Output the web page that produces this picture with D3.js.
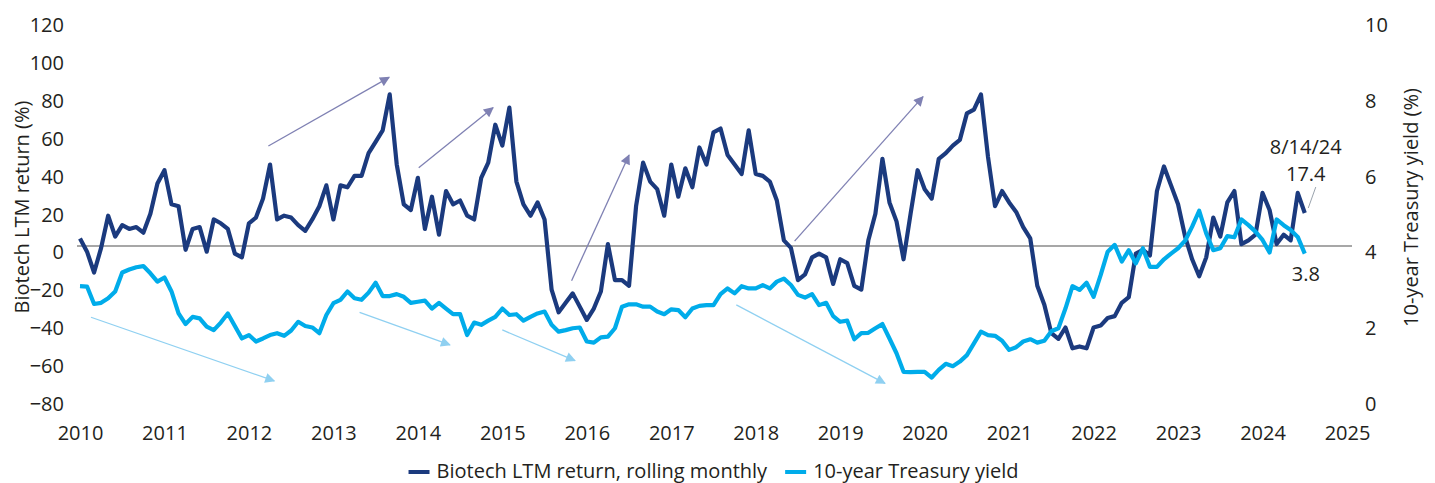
<!DOCTYPE html>
<html>
<head>
<meta charset="utf-8">
<script src="https://cdn.jsdelivr.net/npm/d3@7"></script>
<style>
  body { margin: 0; background: #fff; }
  svg text { font-family: "Open Sans", Lato, sans-serif; fill: #231f20; }
</style>
</head>
<body>
<svg id="chart"></svg>
<script>
// tick labels
var years = d3.range(2010, 2026);
var leftTicks = d3.range(-80, 121, 20);
var rightTicks = d3.range(0, 11, 2);

// monthly, Jan 2010 .. Jul 2024 (last point = 8/14/24)
var biotech = [
  4, -3, -14, -1, 16, 5, 11, 9, 10, 7, 17, 33,
  40, 22, 21, -2, 9, 10, -3, 14, 12, 9, -4, -6,
  12, 15, 25, 43, 14, 16, 15, 11, 8, 14, 21, 32,
  14, 32, 31, 37, 37, 49, 55, 61, 80, 43, 22, 19,
  36, 9, 26, 6, 29, 22, 24, 16, 14, 36, 44, 64,
  53, 73, 34, 22, 16, 23, 14, -23, -35, -30, -25, -32,
  -39, -33, -24, 1, -18, -18, -21, 21, 44, 34, 30, 16,
  43, 26, 41, 31, 52, 43, 60, 62, 48, 43, 38, 61,
  38, 37, 34, 24, 3, -1, -18, -15, -6, -4, -6, -20,
  -7, -9, -21, -23, 3, 17, 46, 23, 13, -7, 17, 40,
  30, 25, 46, 49, 53, 56, 70, 72, 80, 47, 21, 29,
  23, 18, 10, 4, -21, -31, -46, -49, -43, -54, -53, -54,
  -43, -42, -38, -37, -30, -27, -4, -2, -5, 29, 42, 32,
  22, 5, -7, -16, -6, 15, 5, 23, 29, 1, 3, 6,
  28, 19, 1, 6, 3, 28, 17.4
];
var treasury = [
  2.94, 2.93, 2.47, 2.5, 2.62, 2.8, 3.3, 3.38, 3.44, 3.47, 3.28, 3.06,
  3.17, 2.8, 2.22, 1.94, 2.13, 2.09, 1.87, 1.78, 1.98, 2.22, 1.89, 1.56,
  1.65, 1.48, 1.56, 1.65, 1.7, 1.63, 1.77, 2.0, 1.89, 1.85, 1.7, 2.18,
  2.49, 2.58, 2.8, 2.62, 2.58, 2.77, 3.03, 2.68, 2.68, 2.73, 2.66, 2.5,
  2.53, 2.56, 2.35, 2.5, 2.35, 2.2, 2.2, 1.65, 1.98, 1.92, 2.03, 2.13,
  2.35, 2.18, 2.2, 2.03, 2.13, 2.22, 2.27, 1.92, 1.74, 1.78, 1.83, 1.85,
  1.48, 1.45, 1.59, 1.61, 1.83, 2.4, 2.46, 2.46, 2.4, 2.4, 2.27, 2.2,
  2.33, 2.31, 2.12, 2.35, 2.42, 2.44, 2.44, 2.73, 2.88, 2.75, 2.94, 2.88,
  2.88, 2.97, 2.88, 3.06, 3.14, 2.97, 2.71, 2.64, 2.73, 2.44, 2.5, 2.15,
  2.0, 2.03, 1.54, 1.7, 1.71, 1.83, 1.94, 1.56, 1.17, 0.68, 0.67, 0.68,
  0.68, 0.53, 0.73, 0.89, 0.83, 0.95, 1.12, 1.43, 1.74, 1.65, 1.63, 1.5,
  1.26, 1.33, 1.48, 1.54, 1.45, 1.5, 1.75, 1.83, 2.35, 2.94, 2.84, 3.03,
  2.66, 3.23, 3.85, 4.03, 3.59, 3.89, 3.54, 3.94, 3.45, 3.45, 3.65, 3.8,
  3.94, 4.14, 4.51, 4.93, 4.33, 3.89, 3.94, 4.26, 4.23, 4.7, 4.55, 4.38,
  4.16, 3.83, 4.7, 4.55, 4.42, 4.24, 3.8
];

// trend arrows: [year0, value0, year1, value1] on the left axis
var biotechArrows = [
  [2012.23, 52.8, 2013.66, 89],
  [2014.01, 41.3, 2014.89, 73],
  [2015.82, -18.3, 2016.50, 48],
  [2018.46, 2.6, 2019.98, 78.8]
];
var yieldArrows = [
  [2010.13, -37.6, 2012.30, -71.2],
  [2013.31, -35, 2014.38, -52.2],
  [2015.00, -44.3, 2015.86, -60.5],
  [2017.77, -31.1, 2019.53, -72.5]
];

var lastDate = "8/14/24";
var seriesNames = ["Biotech LTM return, rolling monthly", "10-year Treasury yield"];

var width = 1435, height = 483;
var dark = "#1b3a7e", light = "#00acea";

var x = d3.scaleLinear().domain([2010, 2025]).range([80, 1347]);
var yL = d3.scaleLinear().domain([-80, 120]).range([397.6, 18.6]);
var yR = d3.scaleLinear().domain([0, 10]).range([397.6, 18.6]);

function when(i) { return 2010 + i / 12; }

var svg = d3.select("#chart")
    .attr("width", width)
    .attr("height", height);

svg.append("rect").attr("width", width).attr("height", height).attr("fill", "#fff");

var defs = svg.append("defs");
function marker(id, color) {
  defs.append("marker")
      .attr("id", id)
      .attr("viewBox", "0 0 10 10")
      .attr("refX", 9)
      .attr("refY", 5)
      .attr("markerUnits", "userSpaceOnUse")
      .attr("markerWidth", 12)
      .attr("markerHeight", 10)
      .attr("orient", "auto")
    .append("path")
      .attr("d", "M0,0L10,5L0,10Z")
      .attr("fill", color);
}
marker("headDark", "#7f81b3");
marker("headLight", "#8fd0f1");

// axes
var fs = 20;
var gx = svg.append("g")
    .attr("transform", "translate(0,426)")
    .call(d3.axisBottom(x).tickValues(years).tickFormat(d3.format("d")).tickSize(0).tickPadding(0));
var gl = svg.append("g")
    .attr("transform", "translate(64,6.5)")
    .call(d3.axisLeft(yL).tickValues(leftTicks).tickSize(0).tickPadding(0));
var gr = svg.append("g")
    .attr("transform", "translate(1365,6.5)")
    .call(d3.axisRight(yR).tickValues(rightTicks).tickSize(0).tickPadding(0));
[gx, gl, gr].forEach(function(g) {
  g.select(".domain").remove();
  g.attr("font-size", fs).attr("font-family", null);
  g.selectAll("text").attr("fill", "#231f20");
});

svg.append("text")
    .attr("transform", "translate(21,207) rotate(-90)")
    .attr("text-anchor", "middle")
    .attr("dominant-baseline", "central")
    .attr("font-size", fs)
    .text("Biotech LTM return (%)");
svg.append("text")
    .attr("transform", "translate(1410,207.5) rotate(-90)")
    .attr("text-anchor", "middle")
    .attr("dominant-baseline", "central")
    .attr("font-size", fs)
    .text("10-year Treasury yield (%)");

// zero line
svg.append("line")
    .attr("x1", x(2010) - 3).attr("x2", x(2025) + 5)
    .attr("y1", yL(0)).attr("y2", yL(0))
    .attr("stroke", "#8a8a8a")
    .attr("stroke-width", 1.3);

// arrows
function drawArrows(list, color, head) {
  svg.append("g").selectAll("line")
    .data(list).enter()
    .append("line")
      .attr("x1", function(d) { return x(d[0]); })
      .attr("y1", function(d) { return yL(d[1]); })
      .attr("x2", function(d) { return x(d[2]); })
      .attr("y2", function(d) { return yL(d[3]); })
      .attr("stroke", color)
      .attr("stroke-width", 1.3)
      .attr("marker-end", "url(#" + head + ")");
}
drawArrows(biotechArrows, "#7f81b3", "headDark");
drawArrows(yieldArrows, "#8fd0f1", "headLight");

// series
var lineL = d3.line().x(function(d, i) { return x(when(i)); }).y(function(d) { return yL(d); });
var lineR = d3.line().x(function(d, i) { return x(when(i)); }).y(function(d) { return yR(d); });

svg.append("path")
    .datum(biotech)
    .attr("d", lineL)
    .attr("fill", "none")
    .attr("stroke", dark)
    .attr("stroke-width", 4.2)
    .attr("stroke-linejoin", "round");
svg.append("path")
    .datum(treasury)
    .attr("d", lineR)
    .attr("fill", "none")
    .attr("stroke", light)
    .attr("stroke-width", 4.2)
    .attr("stroke-linejoin", "round");

// end labels
var n = biotech.length - 1;
var lx = x(when(n)), ly = yL(biotech[n]), ry = yR(treasury[n]);
svg.append("line")
    .attr("x1", lx + 11).attr("y1", ly - 26)
    .attr("x2", lx + 3.5).attr("y2", ly - 5)
    .attr("stroke", "#9aa3ad")
    .attr("stroke-width", 1);
svg.append("text")
    .attr("x", lx + 1).attr("y", ly - 67)
    .attr("text-anchor", "middle").attr("dominant-baseline", "central")
    .attr("font-size", fs)
    .text(lastDate);
svg.append("text")
    .attr("x", lx + 1).attr("y", ly - 39.5)
    .attr("text-anchor", "middle").attr("dominant-baseline", "central")
    .attr("font-size", fs)
    .text(biotech[n]);
svg.append("text")
    .attr("x", lx + 1).attr("y", ry + 20)
    .attr("text-anchor", "middle").attr("dominant-baseline", "central")
    .attr("font-size", fs)
    .text(treasury[n]);

// legend, centred under the plot
var legend = svg.append("g");
var colors = [dark, light];
var cursor = 0;
seriesNames.forEach(function(name, i) {
  var item = legend.append("g").attr("transform", "translate(" + cursor + ",0)");
  item.append("line")
      .attr("x1", 0).attr("x2", 21)
      .attr("y1", 472).attr("y2", 472)
      .attr("stroke", colors[i])
      .attr("stroke-width", 4);
  var t = item.append("text")
      .attr("x", 28).attr("y", 478)
      .attr("font-size", fs)
      .text(name);
  cursor += 28 + t.node().getComputedTextLength() + 18;
});
var legendWidth = cursor - 18;
legend.attr("transform", "translate(" + ((x(2010) + x(2025)) / 2 - legendWidth / 2) + ",0)");
</script>
</body>
</html>
